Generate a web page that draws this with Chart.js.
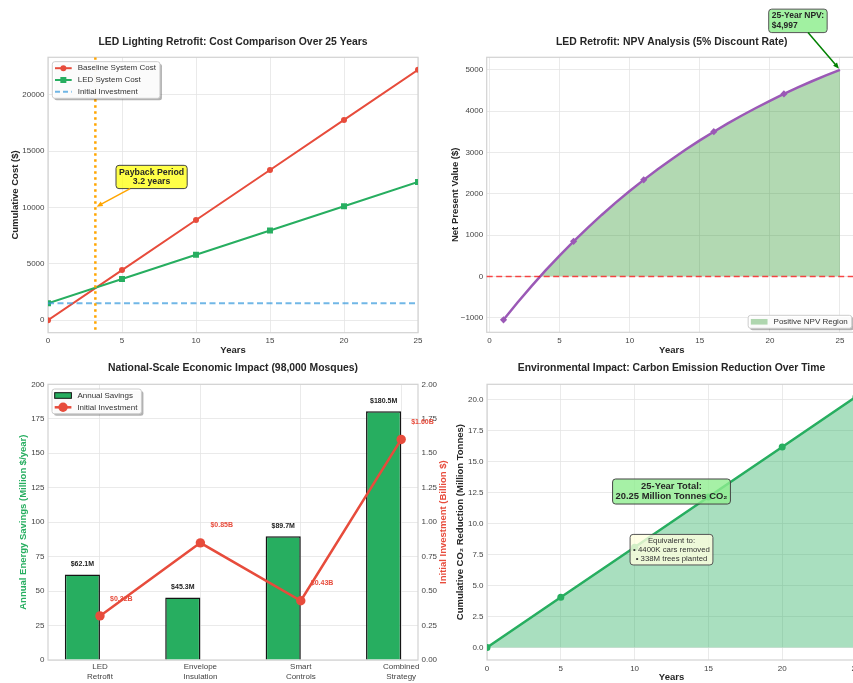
<!DOCTYPE html>
<html><head><meta charset="utf-8"><title>LED Retrofit Analysis</title>
<script src="https://cdn.jsdelivr.net/npm/chart.js@4.4.1/dist/chart.umd.min.js"></script>
<style>
html,body{margin:0;padding:0;background:#fff;}
body{width:853px;height:683px;overflow:hidden;position:relative;}
canvas{position:absolute;}
</style></head><body>
<canvas id="c1" width="430" height="360" style="left:0;top:0"></canvas>
<canvas id="c2" width="440" height="360" style="left:430px;top:0"></canvas>
<canvas id="c3" width="460" height="323" style="left:0;top:360px"></canvas>
<canvas id="c4" width="440" height="323" style="left:430px;top:360px"></canvas>
<script>
// ---------------- data ----------------
const costYears = [0, 5, 10, 15, 20, 25];
const baselineCost = [0, 4440, 8880, 13320, 17760, 22200];
const ledCost = [1500, 3650, 5800, 7950, 10100, 12250];
const initialInvestment = 1500;
const paybackYears = 3.2;
const costTicks = [0, 5000, 10000, 15000, 20000];
const yearTicks = [0, 5, 10, 15, 20, 25];

const npvYears = [1,2,3,4,5,6,7,8,9,10,11,12,13,14,15,16,17,18,19,20,21,22,23,24,25];
const npvValues = [-1047,-630,-232,146,507,850,1177,1488,1785,2067,2336,2592,2836,3068,3290,3500,3701,3892,4074,4248,4413,4570,4720,4862,4997];
const npvTicks = [-1000, 0, 1000, 2000, 3000, 4000, 5000];

const measures = [['LED','Retrofit'], ['Envelope','Insulation'], ['Smart','Controls'], ['Combined','Strategy']];
const annualSavings = [62.1, 45.3, 89.7, 180.5];
const investmentBillion = [0.32, 0.85, 0.43, 1.60];
const savingsTicks = [0, 25, 50, 75, 100, 125, 150, 175, 200];
const investTicks = [0, 0.25, 0.5, 0.75, 1.0, 1.25, 1.5, 1.75, 2.0];

const co2Years = [0, 5, 10, 15, 20, 25];
const co2Reduction = [0, 4.05, 8.1, 12.15, 16.2, 20.25];
const co2Ticks = [0, 2.5, 5, 7.5, 10, 12.5, 15, 17.5, 20];
const carsRemovedK = 4400;
const treesPlantedM = 338;

// ---------------- style ----------------
const FONT = "'Liberation Sans', Arial, Helvetica, sans-serif";
Chart.defaults.font.family = FONT;
Chart.defaults.font.size = 8;
Chart.defaults.color = '#444';
const RED = '#e74c3c', GREEN = '#27ae60', PURPLE = '#9b59b6', ORANGE = '#ffa500';
const GRID = '#e4e4e4', SPINE = '#d2d2d2', TEXT = '#262626';
const BAR_W = 0.35;

function pts(xs, ys) { return xs.map((x, i) => ({ x, y: ys[i] })); }
function padRange(vals, f) { f = f ?? 0.05; const mn = Math.min(...vals), mx = Math.max(...vals), d = (mx - mn) * f; return [mn - d, mx + d]; }
function thousands(v) { return String(v).replace(/\B(?=(\d{3})+(?!\d))/g, ','); }
function minus(v, d) { const s = d == null ? String(Math.abs(v)) : Math.abs(v).toFixed(d); return (v < 0 ? '\u2212' : '') + s; }

function linAxis(o) {
  return {
    type: 'linear', position: o.position, min: o.min, max: o.max, offset: false,
    afterBuildTicks: s => { s.ticks = o.ticks.map(v => ({ value: v })); },
    afterFit: s => { if (o.width != null) s.width = o.width; if (o.height != null) s.height = o.height; },
    ticks: { autoSkip: false, maxRotation: 0, minRotation: 0, padding: o.tickPad ?? 3.5, font: { size: 8 }, color: '#444', callback: o.fmt || (v => minus(v)) },
    grid: { display: o.grid !== false, color: GRID, lineWidth: 0.8, drawTicks: false, offset: false },
    border: { display: false },
    title: o.title ? { display: true, text: o.title, color: o.titleColor || TEXT, font: { size: 9.5, weight: 'bold' }, padding: o.titlePad } : { display: false }
  };
}
function titleCfg(text, cy, top, size) {
  const lh = size * 1.2, t = cy - lh / 2;
  return { display: true, text, fullSize: false, color: TEXT, font: { size, weight: 'bold' }, padding: { top: t, bottom: top - t - lh } };
}
function roundRect(ctx, x, y, w, h, r) {
  ctx.beginPath(); ctx.moveTo(x + r, y);
  ctx.arcTo(x + w, y, x + w, y + h, r); ctx.arcTo(x + w, y + h, x, y + h, r);
  ctx.arcTo(x, y + h, x, y, r); ctx.arcTo(x, y, x + w, y, r); ctx.closePath();
}
const framePlugin = {
  id: 'frame',
  beforeDatasetsDraw(chart) {
    const { ctx, chartArea: a } = chart;
    ctx.save(); ctx.strokeStyle = SPINE; ctx.lineWidth = 1.2;
    ctx.strokeRect(a.left, a.top, a.right - a.left, a.bottom - a.top); ctx.restore();
  }
};
function lineSample(color, lw, dash, marker) {
  return (ctx, x0, x1, y) => {
    ctx.save(); ctx.strokeStyle = color; ctx.lineWidth = lw; ctx.setLineDash(dash || []);
    ctx.beginPath(); ctx.moveTo(x0, y); ctx.lineTo(x1, y); ctx.stroke(); ctx.setLineDash([]);
    if (marker) {
      const cx = (x0 + x1) / 2; ctx.fillStyle = color; ctx.beginPath();
      if (marker.style === 'rect') ctx.rect(cx - marker.r, y - marker.r, 2 * marker.r, 2 * marker.r);
      else ctx.arc(cx, y, marker.r, 0, Math.PI * 2);
      ctx.fill();
    }
    ctx.restore();
  };
}
function patchSample(fill, stroke) {
  return (ctx, x0, x1, y) => {
    ctx.save(); ctx.fillStyle = fill; ctx.fillRect(x0, y - 2.8, x1 - x0, 5.6);
    if (stroke) { ctx.strokeStyle = stroke; ctx.lineWidth = 1; ctx.strokeRect(x0, y - 2.8, x1 - x0, 5.6); }
    ctx.restore();
  };
}
const LEG = { rowH: 11.8, sx0: 2.7, sx1: 19.4, tx: 25.4 };
function legendSize(ctx, items) {
  ctx.save(); ctx.font = '8px ' + FONT;
  const w = LEG.tx + Math.max(...items.map(it => ctx.measureText(it.label).width)) + 4;
  ctx.restore();
  return { w, h: items.length * LEG.rowH + 1.2 };
}
function drawLegend(ctx, left, top, items) {
  const { w, h } = legendSize(ctx, items);
  ctx.save();
  roundRect(ctx, left + 2, top + 2, w, h, 2.5); ctx.fillStyle = 'rgba(0,0,0,0.3)'; ctx.fill();
  roundRect(ctx, left, top, w, h, 2.5); ctx.fillStyle = 'rgba(255,255,255,0.95)'; ctx.fill();
  ctx.strokeStyle = '#cccccc'; ctx.lineWidth = 1; ctx.stroke();
  items.forEach((it, i) => {
    const y = top + 0.6 + LEG.rowH * (i + 0.5);
    it.sample(ctx, left + LEG.sx0, left + LEG.sx1, y);
    ctx.font = '8px ' + FONT; ctx.fillStyle = '#333'; ctx.textAlign = 'left'; ctx.textBaseline = 'middle';
    ctx.fillText(it.label, left + LEG.tx, y);
  });
  ctx.restore();
}
function drawNote(ctx, cx, cy, lines, o) {
  ctx.save();
  ctx.font = (o.bold ? 'bold ' : '') + o.size + 'px ' + FONT;
  const lh = o.size * o.gap;
  const tw = Math.max(...lines.map(s => ctx.measureText(s).width));
  const w = tw + 2 * o.padX, h = lines.length * lh + 2 * o.padY;
  const bx = cx - w / 2, by = cy - h / 2;
  roundRect(ctx, bx, by, w, h, 3);
  ctx.fillStyle = o.fill; ctx.fill();
  ctx.strokeStyle = o.stroke; ctx.lineWidth = 1; ctx.stroke();
  ctx.fillStyle = o.color || TEXT; ctx.textBaseline = 'middle';
  lines.forEach((s, i) => {
    const ty = by + o.padY + lh * (i + 0.5);
    if (o.align === 'left') { ctx.textAlign = 'left'; ctx.fillText(s, bx + o.padX, ty); }
    else { ctx.textAlign = 'center'; ctx.fillText(s, cx, ty); }
  });
  ctx.restore();
  return { x: bx, y: by, w, h };
}
function drawArrow(ctx, box, tx, ty, color, lw) {
  const cx = box.x + box.w / 2, cy = box.y + box.h / 2;
  const dx = tx - cx, dy = ty - cy;
  const t = Math.min(dx ? Math.abs(box.w / 2 / dx) : Infinity, dy ? Math.abs(box.h / 2 / dy) : Infinity);
  const sx = cx + dx * t, sy = cy + dy * t;
  const len = Math.hypot(tx - sx, ty - sy), ux = (tx - sx) / len, uy = (ty - sy) / len;
  const ex = tx - ux * 1.5, ey = ty - uy * 1.5, hl = 6, hw = 2.6;
  ctx.save(); ctx.strokeStyle = color; ctx.fillStyle = color; ctx.lineWidth = lw;
  ctx.beginPath(); ctx.moveTo(sx, sy); ctx.lineTo(ex - ux * hl * 0.7, ey - uy * hl * 0.7); ctx.stroke();
  ctx.beginPath(); ctx.moveTo(ex, ey);
  ctx.lineTo(ex - ux * hl - uy * hw, ey - uy * hl + ux * hw);
  ctx.lineTo(ex - ux * hl + uy * hw, ey - uy * hl - ux * hw);
  ctx.closePath(); ctx.fill(); ctx.restore();
}
const common = { responsive: false, animation: false, devicePixelRatio: 1, events: [] };

// ---------------- chart 1: cost comparison ----------------
(function () {
  const W = 430, H = 360, A = { l: 48, t: 57.3, r: 418, b: 332.7 };
  const [ymin, ymax] = padRange([...baselineCost, ...ledCost]);
  const extras = {
    id: 'extras1',
    afterDatasetsDraw(chart) {
      const { ctx, chartArea: a, scales: { x } } = chart;
      ctx.save(); ctx.beginPath(); ctx.rect(a.left, a.top, a.right - a.left, a.bottom - a.top); ctx.clip();
      const px = x.getPixelForValue(paybackYears);
      ctx.strokeStyle = ORANGE; ctx.lineWidth = 2.5; ctx.setLineDash([2.5, 3.5]);
      ctx.beginPath(); ctx.moveTo(px, a.top); ctx.lineTo(px, a.bottom); ctx.stroke(); ctx.restore();
    },
    afterDraw(chart) {
      const { ctx, chartArea: a, scales: { x, y } } = chart;
      drawLegend(ctx, a.left + 4.3, a.top + 4.4, [
        { label: 'Baseline System Cost', sample: lineSample(RED, 2, null, { style: 'circle', r: 3 }) },
        { label: 'LED System Cost', sample: lineSample(GREEN, 2, null, { style: 'rect', r: 3 }) },
        { label: 'Initial Investment', sample: lineSample('rgba(52,152,219,0.7)', 2, [5, 3]) }
      ]);
      const box = drawNote(ctx, x.getPixelForValue(7), y.getPixelForValue(12700),
        ['Payback Period', paybackYears.toFixed(1) + ' years'],
        { size: 8.75, bold: true, fill: 'rgba(255,255,0,0.72)', stroke: '#444', padX: 3, padY: 2, gap: 1.1 });
      drawArrow(ctx, box, x.getPixelForValue(paybackYears), y.getPixelForValue(10000), ORANGE, 1.5);
    }
  };
  new Chart(document.getElementById('c1'), {
    type: 'line',
    data: { datasets: [
      { label: 'Baseline System Cost', data: pts(costYears, baselineCost), borderColor: RED, backgroundColor: RED, borderWidth: 2, pointRadius: 3, pointBorderWidth: 0, tension: 0, order: 3 },
      { label: 'LED System Cost', data: pts(costYears, ledCost), borderColor: GREEN, backgroundColor: GREEN, borderWidth: 2, pointRadius: 4.2, pointStyle: 'rect', pointBorderWidth: 0, tension: 0, order: 2 },
      { label: 'Initial Investment', data: pts([costYears[0], costYears[costYears.length - 1]], [initialInvestment, initialInvestment]), borderColor: 'rgba(52,152,219,0.7)', borderDash: [6, 3.5], borderWidth: 2, pointRadius: 0, order: 1 }
    ] },
    options: Object.assign({}, common, {
      layout: { padding: { left: 0, top: 0, right: W - A.r, bottom: 0 } },
      plugins: { legend: { display: false }, tooltip: { enabled: false }, title: titleCfg('LED Lighting Retrofit: Cost Comparison Over 25 Years', 41.7, A.t, 10.4) },
      scales: {
        x: linAxis({ position: 'bottom', min: costYears[0], max: costYears[costYears.length - 1], ticks: yearTicks, height: H - A.b, title: 'Years', titlePad: { top: 0, bottom: 3.6 } }),
        y: linAxis({ position: 'left', min: ymin, max: ymax, ticks: costTicks, width: A.l, title: 'Cumulative Cost ($)', titlePad: { top: 9.3, bottom: 0 } })
      }
    }),
    plugins: [framePlugin, extras]
  });
})();

// ---------------- chart 2: NPV ----------------
(function () {
  const W = 440, H = 360, A = { l: 56.7, t: 57.3, r: 426.8, b: 332.3 };
  const [xmin, xmax] = padRange(npvYears);
  const [ymin, ymax] = padRange(npvValues);
  const last = npvValues.length - 1;
  const extras = {
    id: 'extras2',
    afterDatasetsDraw(chart) {
      const { ctx, chartArea: a, scales: { y } } = chart;
      const py = y.getPixelForValue(0);
      ctx.save(); ctx.strokeStyle = 'rgba(255,0,0,0.7)'; ctx.lineWidth = 1.5; ctx.setLineDash([6, 3.5]);
      ctx.beginPath(); ctx.moveTo(a.left, py); ctx.lineTo(a.right, py); ctx.stroke(); ctx.restore();
    },
    afterDraw(chart) {
      const { ctx, chartArea: a, scales: { x, y } } = chart;
      const items = [{ label: 'Positive NPV Region', sample: patchSample('rgba(0,128,0,0.3)', null) }];
      const sz = legendSize(ctx, items);
      drawLegend(ctx, a.right - 5 - sz.w, a.bottom - 4 - sz.h, items);
      const box = drawNote(ctx, x.getPixelForValue(22), y.getPixelForValue(6180),
        ['25-Year NPV:', '$' + thousands(npvValues[last])],
        { size: 8.5, bold: true, fill: 'rgba(144,238,144,0.85)', stroke: '#555', padX: 3, padY: 1.7, gap: 1.18, align: 'left' });
      drawArrow(ctx, box, x.getPixelForValue(npvYears[last]), y.getPixelForValue(npvValues[last]), '#008000', 1.5);
    }
  };
  new Chart(document.getElementById('c2'), {
    type: 'line',
    data: { datasets: [
      { label: 'NPV', data: pts(npvYears, npvValues), borderColor: PURPLE, backgroundColor: PURPLE, borderWidth: 2.5,
        pointRadius: npvYears.map((_, i) => (i % 5 === 0 ? 3.6 : 0)), pointStyle: 'rectRot', pointBorderWidth: 0,
        pointBackgroundColor: PURPLE, tension: 0,
        fill: { target: { value: 0 }, above: 'rgba(0,128,0,0.3)', below: 'rgba(0,0,0,0)' } }
    ] },
    options: Object.assign({}, common, {
      layout: { padding: { left: 0, top: 0, right: W - A.r, bottom: 0 } },
      plugins: { legend: { display: false }, tooltip: { enabled: false }, title: titleCfg('LED Retrofit: NPV Analysis (5% Discount Rate)', 41.7, A.t, 10.4) },
      scales: {
        x: linAxis({ position: 'bottom', min: xmin, max: xmax, ticks: yearTicks, height: H - A.b, title: 'Years', titlePad: { top: 0, bottom: 3.6 } }),
        y: linAxis({ position: 'left', min: ymin, max: ymax, ticks: npvTicks, width: A.l, title: 'Net Present Value ($)', titlePad: { top: 19.3, bottom: 0 } })
      }
    }),
    plugins: [framePlugin, extras]
  });
})();

// ---------------- chart 3: national scale ----------------
(function () {
  const W = 460, H = 323, A = { l: 48, t: 24.3, r: 418, b: 300 };
  const [xmin, xmax] = padRange([-BAR_W, measures.length - 1]);
  const extras = {
    id: 'extras3',
    afterDatasetsDraw(chart) {
      const { ctx, scales: { x, y, y2 } } = chart;
      ctx.save(); ctx.textBaseline = 'bottom';
      annualSavings.forEach((v, i) => {
        ctx.font = 'bold 7px ' + FONT; ctx.fillStyle = '#222'; ctx.textAlign = 'center';
        ctx.fillText('$' + v.toFixed(1) + 'M', x.getPixelForValue(i - BAR_W / 2), y.getPixelForValue(v + 5));
      });
      investmentBillion.forEach((v, i) => {
        ctx.font = 'bold 7px ' + FONT; ctx.fillStyle = RED; ctx.textAlign = 'left';
        ctx.fillText('$' + v.toFixed(2) + 'B', x.getPixelForValue(i + 0.1), y2.getPixelForValue(v + 0.1));
      });
      ctx.restore();
    },
    afterDraw(chart) {
      const { ctx, chartArea: a } = chart;
      drawLegend(ctx, a.left + 4, a.top + 4.7, [
        { label: 'Annual Savings', sample: patchSample(GREEN, '#111') },
        { label: 'Initial Investment', sample: lineSample(RED, 2.5, null, { style: 'circle', r: 4.7 }) }
      ]);
      ctx.save();
      ctx.translate(443, (a.top + a.bottom) / 2); ctx.rotate(-Math.PI / 2);
      ctx.font = 'bold 9.5px ' + FONT; ctx.fillStyle = RED; ctx.textAlign = 'center'; ctx.textBaseline = 'middle';
      ctx.fillText('Initial Investment (Billion $)', 0, 0);
      ctx.restore();
    }
  };
  new Chart(document.getElementById('c3'), {
    type: 'bar',
    data: { datasets: [
      { type: 'bar', label: 'Annual Savings', data: annualSavings.map((v, i) => ({ x: i - BAR_W / 2, y: v })), backgroundColor: GREEN, borderColor: '#151515', borderWidth: 1.5, categoryPercentage: 1, barPercentage: BAR_W, yAxisID: 'y', order: 2 },
      { type: 'line', label: 'Initial Investment', data: investmentBillion.map((v, i) => ({ x: i, y: v })), borderColor: RED, backgroundColor: RED, borderWidth: 2.5, pointRadius: 4.7, pointBorderWidth: 0, tension: 0, yAxisID: 'y2', order: 1 }
    ] },
    options: Object.assign({}, common, {
      layout: { padding: { left: 0, top: 0, right: 0, bottom: 0 } },
      plugins: { legend: { display: false }, tooltip: { enabled: false }, title: titleCfg('National-Scale Economic Impact (98,000 Mosques)', 368.3 - 360, A.t, 10.4) },
      scales: {
        x: linAxis({ position: 'bottom', min: xmin, max: xmax, ticks: measures.map((_, i) => i), height: H - A.b, tickPad: 2, fmt: v => measures[Math.round(v)] }),
        y: linAxis({ position: 'left', min: savingsTicks[0], max: savingsTicks[savingsTicks.length - 1], ticks: savingsTicks, width: A.l, title: 'Annual Energy Savings (Million $/year)', titleColor: GREEN, titlePad: { top: 17.6, bottom: 0 } }),
        y2: linAxis({ position: 'right', min: investTicks[0], max: investTicks[investTicks.length - 1], ticks: investTicks, width: W - A.r, grid: false, fmt: v => v.toFixed(2) })
      }
    }),
    plugins: [framePlugin, extras]
  });
})();

// ---------------- chart 4: CO2 ----------------
(function () {
  const W = 440, H = 323, A = { l: 57, t: 24.3, r: 426, b: 300 };
  const [ymin, ymax] = padRange(co2Reduction);
  const last = co2Reduction.length - 1;
  const extras = {
    id: 'extras4',
    afterDraw(chart) {
      const { ctx, scales: { x, y } } = chart;
      drawNote(ctx, x.getPixelForValue(12.5), y.getPixelForValue(12.6),
        ['25-Year Total:', co2Reduction[last].toFixed(2) + ' Million Tonnes CO\u2082'],
        { size: 9.4, bold: true, fill: 'rgba(144,238,144,0.8)', stroke: '#444', padX: 3, padY: 2, gap: 1.12 });
      drawNote(ctx, x.getPixelForValue(12.5), y.getPixelForValue(7.9),
        ['Equivalent to:', '\u2022 ' + carsRemovedK + 'K cars removed', '\u2022 ' + treesPlantedM + 'M trees planted'],
        { size: 7.8, bold: false, fill: 'rgba(255,255,224,0.8)', stroke: '#555', padX: 3, padY: 1.7, gap: 1.16, color: '#333' });
    }
  };
  new Chart(document.getElementById('c4'), {
    type: 'line',
    data: { datasets: [
      { label: 'CO2', data: pts(co2Years, co2Reduction), borderColor: GREEN, backgroundColor: GREEN, borderWidth: 2.5, pointRadius: 3.5, pointBorderWidth: 0, tension: 0,
        fill: { target: 'origin', above: 'rgba(39,174,96,0.4)', below: 'rgba(39,174,96,0.4)' } }
    ] },
    options: Object.assign({}, common, {
      layout: { padding: { left: 0, top: 0, right: W - A.r, bottom: 0 } },
      plugins: { legend: { display: false }, tooltip: { enabled: false }, title: titleCfg('Environmental Impact: Carbon Emission Reduction Over Time', 368.3 - 360, A.t, 10.4) },
      scales: {
        x: linAxis({ position: 'bottom', min: co2Years[0], max: co2Years[last], ticks: yearTicks, height: H - A.b, title: 'Years', titlePad: { top: 0, bottom: 0 } }),
        y: linAxis({ position: 'left', min: ymin, max: ymax, ticks: co2Ticks, width: A.l, fmt: v => v.toFixed(1), title: 'Cumulative CO\u2082 Reduction (Million Tonnes)', titlePad: { top: 24.3, bottom: 0 } })
      }
    }),
    plugins: [framePlugin, extras]
  });
})();
</script></body></html>
